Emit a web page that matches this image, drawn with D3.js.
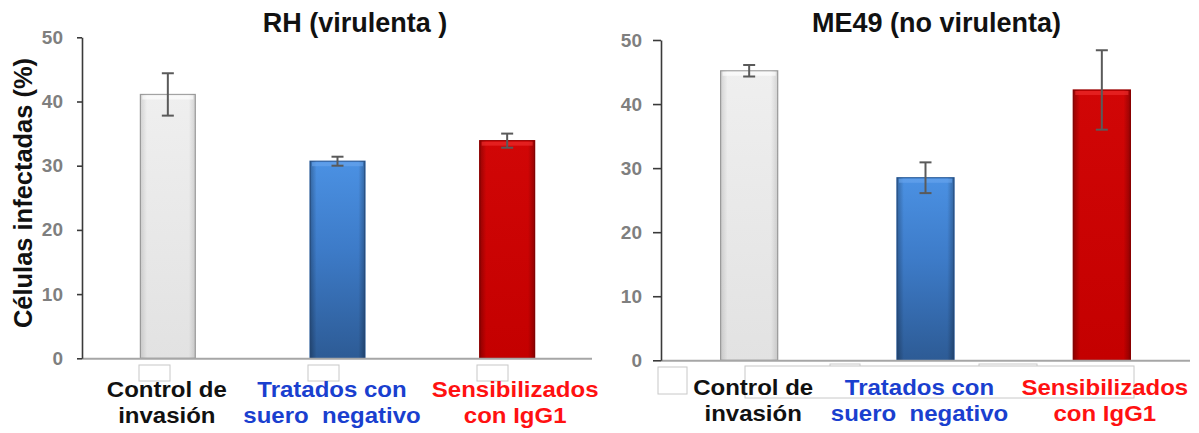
<!DOCTYPE html>
<html>
<head>
<meta charset="utf-8">
<script src="https://cdn.jsdelivr.net/npm/d3@7"></script>
<style>
  html, body { margin: 0; padding: 0; background: #fff; }
  text { font-family: "Liberation Sans", Arial, sans-serif; }
</style>
</head>
<body>
<script>
// ---------------- data ----------------
const categories = [["Control de", "invasión"], ["Tratados con", "suero  negativo"], ["Sensibilizados", "con IgG1"]];
const categoryColors = ["#111111", "#1a3fcf", "#ff1111"];
const rhTitle = "RH (virulenta )";
const rhValues = [41.1, 30.7, 33.9];
const rhErrors = [3.3, 0.7, 1.1];
const me49Title = "ME49 (no virulenta)";
const me49Values = [45.2, 28.5, 42.2];
const me49Errors = [0.9, 2.4, 6.2];
const yTicks = [0, 10, 20, 30, 40, 50];
const yLabel = "Células infectadas (%)";

// ---------------- layout ----------------
const W = 1199, H = 433;
const svg = d3.select("body").append("svg").attr("width", W).attr("height", H);
const defs = svg.append("defs");

function grad(id, stops, vertical) {
  const g = defs.append("linearGradient").attr("id", id)
    .attr("x1", 0).attr("y1", 0).attr("x2", vertical ? 0 : 1).attr("y2", vertical ? 1 : 0);
  stops.forEach(s => g.append("stop").attr("offset", s[0]).attr("stop-color", s[1]).attr("stop-opacity", s[2] === undefined ? 1 : s[2]));
}
grad("g0", [[0, "#efefef"], [1, "#e2e2e2"]], true);
grad("g1", [[0, "#4b91e3"], [0.45, "#3d7bc8"], [1, "#2d5b95"]], true);
grad("g2", [[0, "#d10606"], [1, "#c40000"]], true);
grad("edge", [[0, "#000", 0.28], [0.12, "#000", 0.0], [0.88, "#000", 0.0], [1, "#000", 0.28]], false);
grad("edgeLight", [[0, "#000", 0.12], [0.12, "#000", 0.0], [0.88, "#000", 0.0], [1, "#000", 0.12]], false);
const barFills = ["url(#g0)", "url(#g1)", "url(#g2)"];
const barStrokes = ["#a3a3a3", "#2f5f9c", "#9a0000"];
const bevelColors = ["#ffffff", "#6aa6ee", "#f03030"];

const panels = [
  { title: rhTitle, values: rhValues, errors: rhErrors,
    axisX: 82, xRange: [83, 592], yRange: [358.3, 37.3], xEnd: 592,
    tickSize: 5, tickPad: 14, titleX: 355, labelDx: [-1, -5.5, 8], base1: 397, base2: 423,
    boxes: [[139, 365, 31, 16], [308, 365, 31, 16], [477, 365, 31, 16]], bigBox: null },
  { title: me49Title, values: me49Values, errors: me49Errors,
    axisX: 661, xRange: [661, 1190], yRange: [360.3, 40], xEnd: 1190,
    tickSize: 8, tickPad: 11, titleX: 936.5, labelDx: [4, -6, 3], base1: 395, base2: 421,
    boxes: [[658, 367, 29, 27], [830, 364, 30, 20], [979, 364, 58, 20]], bigBox: [745, 366, 389, 32] }
];

// natural text width at a given size (used to keep label widths while shrinking height)
const measurer = svg.append("text").attr("font-weight", "bold").style("white-space", "pre").attr("x", -999).attr("y", -999);
function naturalWidth(str, size) {
  measurer.attr("font-size", size).text(str);
  return measurer.node().getComputedTextLength();
}

panels.forEach((p, pi) => {
  const g = svg.append("g");
  const x = d3.scaleBand().domain(d3.range(categories.length)).range(p.xRange)
    .paddingInner(0.676).paddingOuter(0.338);
  const y = d3.scaleLinear().domain([0, 50]).range(p.yRange);

  // placeholder boxes below the axis
  p.boxes.forEach(b => g.append("rect").attr("x", b[0]).attr("y", b[1]).attr("width", b[2]).attr("height", b[3])
    .attr("fill", "#fff").attr("stroke", "#c8c8c8").attr("stroke-width", 1));
  if (p.bigBox) {
    const b = p.bigBox;
    g.append("rect").attr("x", b[0]).attr("y", b[1]).attr("width", b[2]).attr("height", b[3])
      .attr("fill", "#fff").attr("stroke", "#c8c8c8").attr("stroke-width", 1);
  }

  // bars
  const bars = g.selectAll(".bar").data(p.values).enter().append("g");
  bars.append("rect")
    .attr("x", (d, i) => x(i)).attr("y", d => y(d))
    .attr("width", x.bandwidth()).attr("height", d => y(0) - y(d))
    .attr("fill", (d, i) => barFills[i]).attr("stroke", (d, i) => barStrokes[i]).attr("stroke-width", 1.2);
  bars.append("rect")
    .attr("x", (d, i) => x(i)).attr("y", d => y(d))
    .attr("width", x.bandwidth()).attr("height", d => y(0) - y(d))
    .attr("fill", (d, i) => i === 0 ? "url(#edgeLight)" : "url(#edge)");
  bars.append("rect")
    .attr("x", (d, i) => x(i) + 2).attr("y", d => y(d) + 1)
    .attr("width", x.bandwidth() - 4).attr("height", 4)
    .attr("fill", (d, i) => bevelColors[i]).attr("opacity", 0.6);

  // x axis baseline
  g.append("line").attr("x1", p.axisX).attr("x2", p.xEnd).attr("y1", y(0) + 0.5).attr("y2", y(0) + 0.5)
    .attr("stroke", "#a6a6a6").attr("stroke-width", 2);

  // error bars
  const eb = g.selectAll(".err").data(p.values).enter().append("g").attr("stroke", "#5a5a5a").attr("stroke-width", 2);
  const cx = i => x(i) + x.bandwidth() / 2;
  eb.append("line").attr("x1", (d, i) => cx(i)).attr("x2", (d, i) => cx(i))
    .attr("y1", (d, i) => y(d + p.errors[i])).attr("y2", (d, i) => y(d - p.errors[i]));
  eb.append("line").attr("x1", (d, i) => cx(i) - 6).attr("x2", (d, i) => cx(i) + 6)
    .attr("y1", (d, i) => y(d + p.errors[i])).attr("y2", (d, i) => y(d + p.errors[i]));
  eb.append("line").attr("x1", (d, i) => cx(i) - 6).attr("x2", (d, i) => cx(i) + 6)
    .attr("y1", (d, i) => y(d - p.errors[i])).attr("y2", (d, i) => y(d - p.errors[i]));

  // y axis
  const ax = g.append("g").attr("transform", `translate(${p.axisX},0)`)
    .call(d3.axisLeft(y).tickValues(yTicks).tickSize(p.tickSize).tickSizeOuter(0).tickPadding(p.tickPad));
  ax.select(".domain").attr("stroke", "#3a3a3a").attr("stroke-width", 1.6);
  ax.selectAll(".tick line").attr("stroke", "#3a3a3a").attr("stroke-width", 1.6);
  ax.selectAll(".tick text").attr("fill", "#7f7f7f").attr("font-size", 19).attr("font-weight", "bold")
    .style("font-family", '"Liberation Sans", Arial, sans-serif');

  // title
  g.append("text").attr("x", p.titleX).attr("y", 32).attr("text-anchor", "middle")
    .attr("font-size", 27).attr("font-weight", "bold").attr("fill", "#111").text(p.title);

  // category labels (two separate lines, each stretched to the reference width)
  categories.forEach((lines, i) => {
    [p.base1, p.base2].forEach((base, li) => {
      const w = naturalWidth(lines[li], 24);
      g.append("text").attr("text-anchor", "middle").attr("font-size", 21.5).attr("font-weight", "bold")
        .attr("fill", categoryColors[i]).style("white-space", "pre")
        .attr("x", cx(i) + p.labelDx[i]).attr("y", base)
        .attr("textLength", w).attr("lengthAdjust", "spacingAndGlyphs")
        .text(lines[li]);
    });
  });
});
measurer.remove();

// y axis title
svg.append("text").attr("transform", "translate(32,193) rotate(-90)").attr("text-anchor", "middle")
  .attr("font-size", 25).attr("font-weight", "bold").attr("fill", "#111")
  .attr("textLength", 270).attr("lengthAdjust", "spacingAndGlyphs").text(yLabel);
</script>
</body>
</html>
